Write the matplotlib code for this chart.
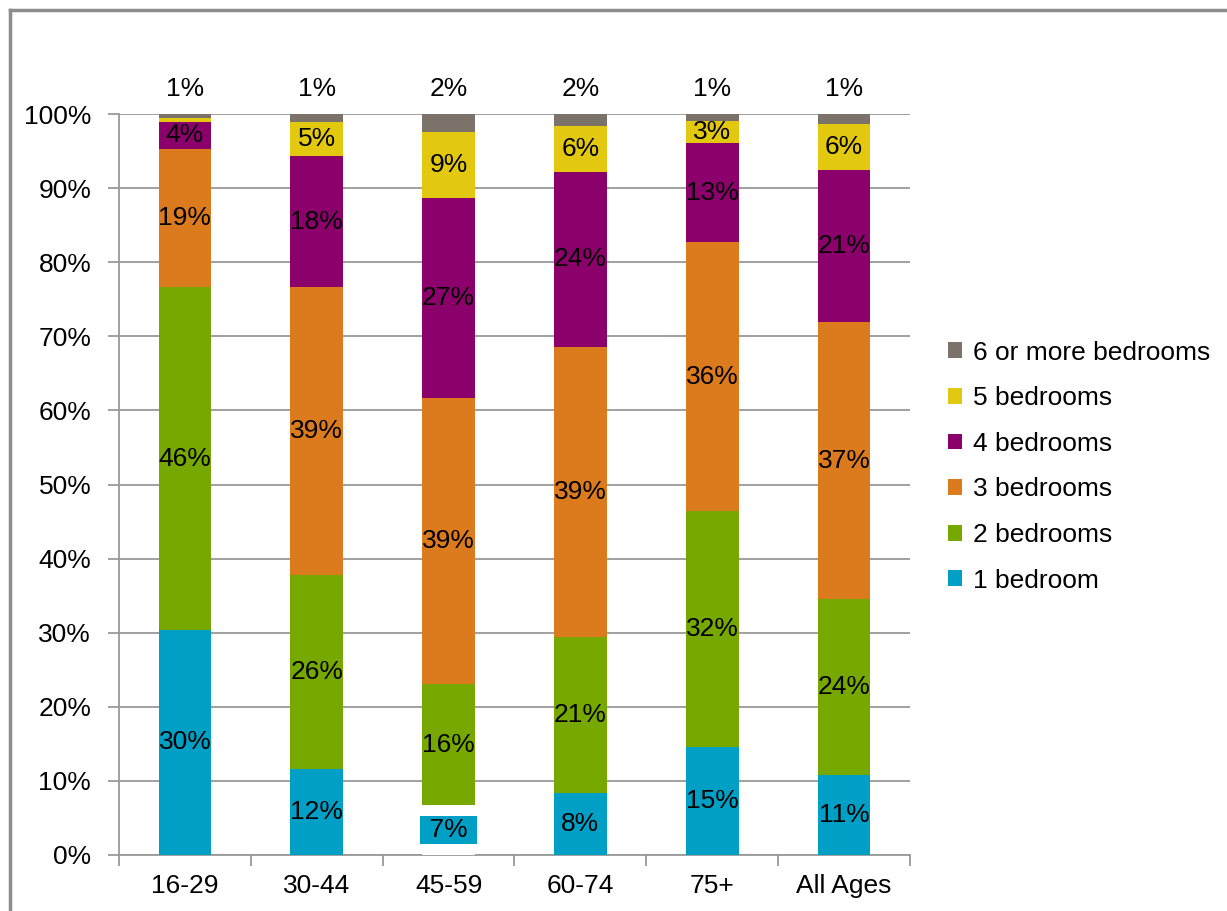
import matplotlib
matplotlib.use("Agg")
import matplotlib.pyplot as plt
from matplotlib.lines import Line2D
from matplotlib.patches import Patch

plt.rcParams["font.family"] = ["Liberation Sans", "DejaVu Sans"]

age_groups = ["16-29", "30-44", "45-59", "60-74", "75+", "All Ages"]
series_names = ["1 bedroom", "2 bedrooms", "3 bedrooms", "4 bedrooms",
                "5 bedrooms", "6 or more bedrooms"]
one_bed = [30.4, 11.6, 6.7, 8.4, 14.6, 10.8]
two_bed = [46.2, 26.2, 16.4, 21.0, 31.8, 23.7]
three_bed = [18.7, 38.8, 38.6, 39.2, 36.3, 37.4]
four_bed = [3.6, 17.7, 27.0, 23.6, 13.4, 20.6]
five_bed = [0.5, 4.6, 8.9, 6.2, 3.0, 6.1]
six_plus = [0.6, 1.1, 2.4, 1.6, 0.9, 1.4]
colors = ["#00A0C6", "#76A800", "#DC7A1E", "#8B006B", "#E2C80F", "#7B726A"]

series = [one_bed, two_bed, three_bed, four_bed, five_bed, six_plus]

FS = 19
W, H = 1227, 911
fig = plt.figure(figsize=(W / 100, H / 100), dpi=100)
ax = fig.add_axes([119 / W, 1 - 855 / H, 791 / W, 741 / H])

grid_c = "#999999"
x = list(range(len(age_groups)))
bottoms = [0.0] * len(age_groups)
for si, (vals, col) in enumerate(zip(series, colors)):
    for i, v in enumerate(vals):
        face = col
        odd_one = si == 0 and age_groups[i] == "45-59"
        # the 45-59 one-bedroom segment shows only its labelled box
        if odd_one:
            face = "white"
        ax.bar(x[i], v, width=0.4, bottom=bottoms[i], color=face,
               edgecolor="none", zorder=3)
        label = f"{v:.0f}%"
        if si == len(series) - 1:
            ax.text(x[i], 103.4, label, ha="center", va="center",
                    fontsize=FS, clip_on=False, zorder=5)
        elif v >= 1:
            if odd_one:
                ax.text(x[i], 3.35, " " + label + " ", ha="center",
                        va="center", fontsize=FS, zorder=5,
                        bbox=dict(boxstyle="square,pad=0.08", fc=col, ec="none"))
            else:
                ax.text(x[i], bottoms[i] + v / 2, label, ha="center",
                        va="center", fontsize=FS, zorder=5)
        bottoms[i] += v

ax.set_xlim(-0.5, len(age_groups) - 0.5)
ax.set_ylim(0, 100)
ax.set_yticks(range(0, 101, 10))
ax.set_yticklabels([f"{t}%" for t in range(0, 101, 10)], fontsize=FS)
ax.yaxis.grid(True, color=grid_c, linewidth=1.3, zorder=0)
ax.set_axisbelow(True)

ax.set_xticks(x)
ax.set_xticklabels(age_groups, fontsize=FS)
ax.tick_params(axis="x", length=0, pad=14)
ax.set_xticks([i + 0.5 for i in range(-1, len(age_groups))], minor=True)
ax.tick_params(axis="x", which="minor", length=8, width=1.3, color=grid_c)
ax.tick_params(axis="y", length=8, width=1.3, color=grid_c, pad=12)

for s in ["top", "right"]:
    ax.spines[s].set_visible(False)
for s in ["left", "bottom"]:
    ax.spines[s].set_color(grid_c)
    ax.spines[s].set_linewidth(1.3)

# outer chart frame
fig.add_artist(Line2D([10 / W, 1.0], [1 - 10 / H, 1 - 10 / H],
                      transform=fig.transFigure, color="#8C8C8C", lw=2.5))
fig.add_artist(Line2D([10 / W, 10 / W], [0, 1 - 10 / H],
                      transform=fig.transFigure, color="#8C8C8C", lw=2.5))

handles = [Patch(facecolor=c, edgecolor="none") for c in colors][::-1]
fig.legend(handles, series_names[::-1], loc="upper left",
           bbox_to_anchor=(937 / W, 1 - 330 / H), frameon=False,
           fontsize=FS, handlelength=0.55, handleheight=0.55,
           handletextpad=0.4, labelspacing=0.82, borderaxespad=0)

fig.savefig("out.png", dpi=100, facecolor="white")
